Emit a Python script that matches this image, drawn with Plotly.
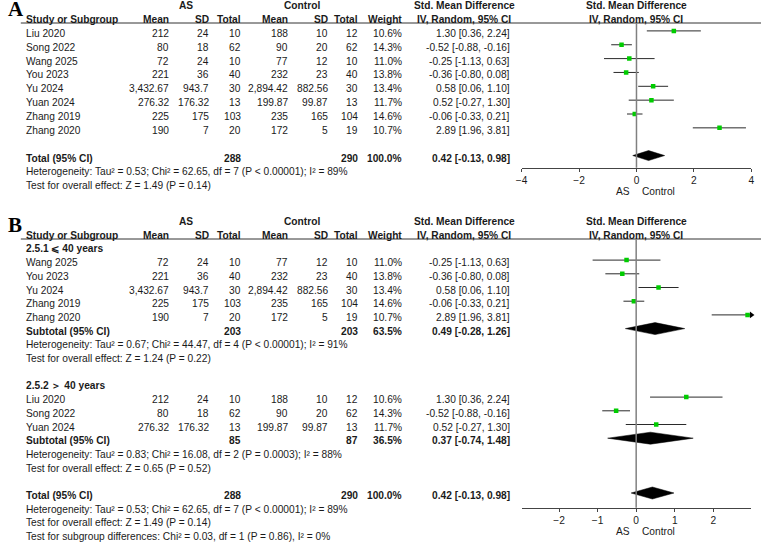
import plotly.graph_objects as go

W, H = 764, 545

# ---------------- data ----------------
studies = ["Liu 2020", "Song 2022", "Wang 2025", "You 2023", "Yu 2024", "Yuan 2024", "Zhang 2019", "Zhang 2020"]
as_mean = [212, 80, 72, 221, 3432.67, 276.32, 225, 190]
as_sd = [24, 18, 24, 36, 943.7, 176.32, 175, 7]
as_n = [10, 62, 10, 40, 30, 13, 103, 20]
ct_mean = [188, 90, 77, 232, 2894.42, 199.87, 235, 172]
ct_sd = [10, 20, 12, 23, 882.56, 99.87, 165, 5]
ct_n = [12, 62, 10, 40, 30, 13, 104, 19]
weight = [10.6, 14.3, 11.0, 13.8, 13.4, 11.7, 14.6, 10.7]
smd = [1.30, -0.52, -0.25, -0.36, 0.58, 0.52, -0.06, 2.89]
ci_lo = [0.36, -0.88, -1.13, -0.80, 0.06, -0.27, -0.33, 1.96]
ci_hi = [2.24, -0.16, 0.63, 0.08, 1.10, 1.30, 0.21, 3.81]

sub_names = ["2.5.1 ⩽ 40 years", "2.5.2 ＞ 40 years"]
sub_members = [["Wang 2025", "You 2023", "Yu 2024", "Zhang 2019", "Zhang 2020"],
               ["Liu 2020", "Song 2022", "Yuan 2024"]]
sub_as_n = [203, 85]
sub_ct_n = [203, 87]
sub_weight = [63.5, 36.5]
sub_smd = [0.49, 0.37]
sub_lo = [-0.28, -0.74]
sub_hi = [1.26, 1.48]
sub_het = ["Heterogeneity: Tau² = 0.67; Chi² = 44.47, df = 4 (P < 0.00001); I² = 91%",
           "Heterogeneity: Tau² = 0.83; Chi² = 16.08, df = 2 (P = 0.0003); I² = 88%"]
sub_z = ["Test for overall effect: Z = 1.24 (P = 0.22)",
         "Test for overall effect: Z = 0.65 (P = 0.52)"]

total_as_n = 288
total_ct_n = 290
total_weight = 100.0
total_smd = 0.42
total_lo = -0.13
total_hi = 0.98
total_het = "Heterogeneity: Tau² = 0.53; Chi² = 62.65, df = 7 (P < 0.00001); I² = 89%"
total_z = "Test for overall effect: Z = 1.49 (P = 0.14)"
subgroup_diff = "Test for subgroup differences: Chi² = 0.03, df = 1 (P = 0.86), I² = 0%"

ticks_A = [-4, -2, 0, 2, 4]
ticks_B = [-2, -1, 0, 1, 2]
range_A = [-4, 4]
range_B = [-2.974, 2.99]

# ---------------- style / layout ----------------
SANS = "Liberation Sans, Arial, sans-serif"
SERIF = "Liberation Serif, Times New Roman, serif"
FS = 10.2
TXT = "#1a1a1a"
GREEN = "#00cc00"

COL_NAME = 18
COL = dict(as_mean=167, as_sd=207, as_n=240, ct_mean=287, ct_sd=328, ct_n=358, weight=403, ci=512)
PLOT_L, PLOT_R = 521.7, 754.3

PANEL = {
    "A": dict(base=33.4, step=13.85, top=23.0, bottom=167.7, xa="x", ya="y", rng=range_A, ticks=ticks_A, half=5.0, lab=191),
    "B": dict(base=248.9, step=13.7, top=239.0, bottom=507.7, xa="x2", ya="y2", rng=range_B, ticks=ticks_B, half=6.0, lab=531),
}
MOFF = -2.5  # marks sit slightly above text centre

annotations = []
shapes = []
traces = []


def fnum(v):
    return f"{v:,}"


def fci(e, l, h):
    return f"{e:.2f} [{l:.2f}, {h:.2f}]"


def T(x, y, text, anchor="left", bold=False, size=FS, family=SANS, color=TXT):
    annotations.append(dict(x=x / W, y=1 - y / H, xref="paper", yref="paper",
                            text=f"<b>{text}</b>" if bold else text,
                            xanchor=anchor, yanchor="middle", showarrow=False,
                            font=dict(size=size, family=family, color=color)))


def rowpx(p, r):
    P = PANEL[p]
    return P["base"] + P["step"] * r


def header(p, letter):
    P = PANEL[p]
    y1, y2 = rowpx(p, -2), rowpx(p, -1)
    T(0, y1 + 3.5, letter, bold=True, size=21, family=SERIF, color="#000")
    T(182, y1, "AS", "center", True)
    T(300, y1, "Control", "center", True)
    T(463.5, y1, "Std. Mean Difference", "center", True)
    T(638, y1, "Std. Mean Difference", "center", True)
    T(COL_NAME, y2, "Study or Subgroup", "left", True)
    for k, lab in [("as_mean", "Mean"), ("as_sd", "SD"), ("as_n", "Total"),
                   ("ct_mean", "Mean"), ("ct_sd", "SD"), ("ct_n", "Total"), ("weight", "Weight")]:
        T(COL[k], y2, lab, "right", True)
    T(463.5, y2, "IV, Random, 95% CI", "center", True)
    T(638, y2, "IV, Random, 95% CI", "center", True)
    shapes.append(dict(type="line", xref="paper", yref="paper", x0=15 / W, x1=1,
                       y0=1 - P["top"] / H, y1=1 - P["top"] / H, line=dict(color="#333", width=1)))


def study_row(p, r, i):
    y = rowpx(p, r)
    T(COL_NAME, y, studies[i])
    T(COL["as_mean"], y, fnum(as_mean[i]), "right")
    T(COL["as_sd"], y, fnum(as_sd[i]), "right")
    T(COL["as_n"], y, fnum(as_n[i]), "right")
    T(COL["ct_mean"], y, fnum(ct_mean[i]), "right")
    T(COL["ct_sd"], y, fnum(ct_sd[i]), "right")
    T(COL["ct_n"], y, fnum(ct_n[i]), "right")
    T(COL["weight"], y, f"{weight[i]:.1f}%", "right")
    T(COL["ci"], y, fci(smd[i], ci_lo[i], ci_hi[i]), "right")


def total_row(p, r, label, na, nc, w, e, l, h):
    y = rowpx(p, r)
    T(COL_NAME, y, label, bold=True)
    T(COL["as_n"], y, str(na), "right", True)
    T(COL["ct_n"], y, str(nc), "right", True)
    T(COL["weight"], y, f"{w:.1f}%", "right", True)
    T(COL["ci"], y, fci(e, l, h), "right", True)


def forest(p, idx_rows, diamonds):
    P = PANEL[p]
    xs, ys, mx, my = [], [], [], []
    ax, ay = [], []
    lo_lim, hi_lim = P["rng"]
    for i, r in idx_rows:
        xs += [max(ci_lo[i], lo_lim), min(ci_hi[i], hi_lim), None]
        ys += [r, r, None]
        mx.append(smd[i]); my.append(r)
        if ci_hi[i] > hi_lim:
            ax.append(hi_lim); ay.append(r)
    traces.append(go.Scatter(x=xs, y=ys, mode="lines", line=dict(color="#2a2a2a", width=1),
                             xaxis=P["xa"], yaxis=P["ya"], hoverinfo="skip", showlegend=False))
    traces.append(go.Scatter(x=mx, y=my, mode="markers",
                             marker=dict(symbol="square", size=4.5, color=GREEN, line=dict(width=0)),
                             xaxis=P["xa"], yaxis=P["ya"], hoverinfo="skip", showlegend=False))
    if ax:
        traces.append(go.Scatter(x=ax, y=ay, mode="markers", cliponaxis=False,
                                 marker=dict(symbol="triangle-right", size=6, color="#000"),
                                 xaxis=P["xa"], yaxis=P["ya"], hoverinfo="skip", showlegend=False))
    hh = P["half"] / P["step"]
    for r, e, l, h in diamonds:
        traces.append(go.Scatter(x=[l, e, h, e, l], y=[r, r - hh, r, r + hh, r], mode="lines",
                                 fill="toself", fillcolor="#000", line=dict(color="#000", width=0.5),
                                 xaxis=P["xa"], yaxis=P["ya"], hoverinfo="skip", showlegend=False))
    # zero line
    shapes.append(dict(type="line", xref=P["xa"], yref=P["ya"] + " domain", x0=0, x1=0, y0=0, y1=1,
                       line=dict(color="#808080", width=1.5)))
    annotations.append(dict(x=0, y=1 - P["lab"] / H, xref=P["xa"], yref="paper", text="AS",
                            xanchor="right", yanchor="middle", xshift=-4, showarrow=False,
                            font=dict(size=FS, family=SANS, color=TXT)))
    annotations.append(dict(x=0, y=1 - P["lab"] / H, xref=P["xa"], yref="paper", text="Control",
                            xanchor="left", yanchor="middle", xshift=4, showarrow=False,
                            font=dict(size=FS, family=SANS, color=TXT)))


# ---------------- panel A ----------------
header("A", "A")
for i in range(len(studies)):
    study_row("A", i, i)
total_row("A", 9, "Total (95% CI)", total_as_n, total_ct_n, total_weight, total_smd, total_lo, total_hi)
T(COL_NAME, rowpx("A", 10), total_het)
T(COL_NAME, rowpx("A", 11), total_z)
forest("A", [(i, i) for i in range(len(studies))], [(9, total_smd, total_lo, total_hi)])

# ---------------- panel B ----------------
header("B", "B")
r = 0
b_rows = []
b_diamonds = []
for g in range(len(sub_names)):
    T(COL_NAME, rowpx("B", r), sub_names[g], bold=True)
    r += 1
    for name in sub_members[g]:
        i = studies.index(name)
        study_row("B", r, i)
        b_rows.append((i, r))
        r += 1
    total_row("B", r, "Subtotal (95% CI)", sub_as_n[g], sub_ct_n[g], sub_weight[g], sub_smd[g], sub_lo[g], sub_hi[g])
    b_diamonds.append((r, sub_smd[g], sub_lo[g], sub_hi[g]))
    r += 1
    T(COL_NAME, rowpx("B", r), sub_het[g]); r += 1
    T(COL_NAME, rowpx("B", r), sub_z[g]); r += 2
total_row("B", r, "Total (95% CI)", total_as_n, total_ct_n, total_weight, total_smd, total_lo, total_hi)
b_diamonds.append((r, total_smd, total_lo, total_hi))
r += 1
T(COL_NAME, rowpx("B", r), total_het); r += 1
T(COL_NAME, rowpx("B", r), total_z); r += 1
T(COL_NAME, rowpx("B", r), subgroup_diff)
forest("B", b_rows, b_diamonds)

# ---------------- figure ----------------
fig = go.Figure(traces)


def yrange(p):
    P = PANEL[p]
    b0 = P["base"] + MOFF
    return [(P["bottom"] - b0) / P["step"], (P["top"] - b0) / P["step"]]


def ydom(p):
    P = PANEL[p]
    return [1 - P["bottom"] / H, 1 - P["top"] / H]


xcommon = dict(domain=[PLOT_L / W, PLOT_R / W], showgrid=False, zeroline=False, showline=True,
               linecolor="#444", linewidth=1, ticks="outside", ticklen=3, tickwidth=1, tickcolor="#444",
               tickfont=dict(size=FS, family=SANS, color=TXT), fixedrange=True)
fig.update_layout(
    width=W, height=H, margin=dict(l=0, r=0, t=0, b=0),
    paper_bgcolor="white", plot_bgcolor="white",
    xaxis=dict(xcommon, range=range_A, tickvals=ticks_A, anchor="y"),
    yaxis=dict(domain=ydom("A"), range=yrange("A"), visible=False, fixedrange=True, anchor="x"),
    xaxis2=dict(xcommon, range=range_B, tickvals=ticks_B, anchor="y2"),
    yaxis2=dict(domain=ydom("B"), range=yrange("B"), visible=False, fixedrange=True, anchor="x2"),
    annotations=annotations, shapes=shapes, showlegend=False,
)
fig.write_html("out.html")
